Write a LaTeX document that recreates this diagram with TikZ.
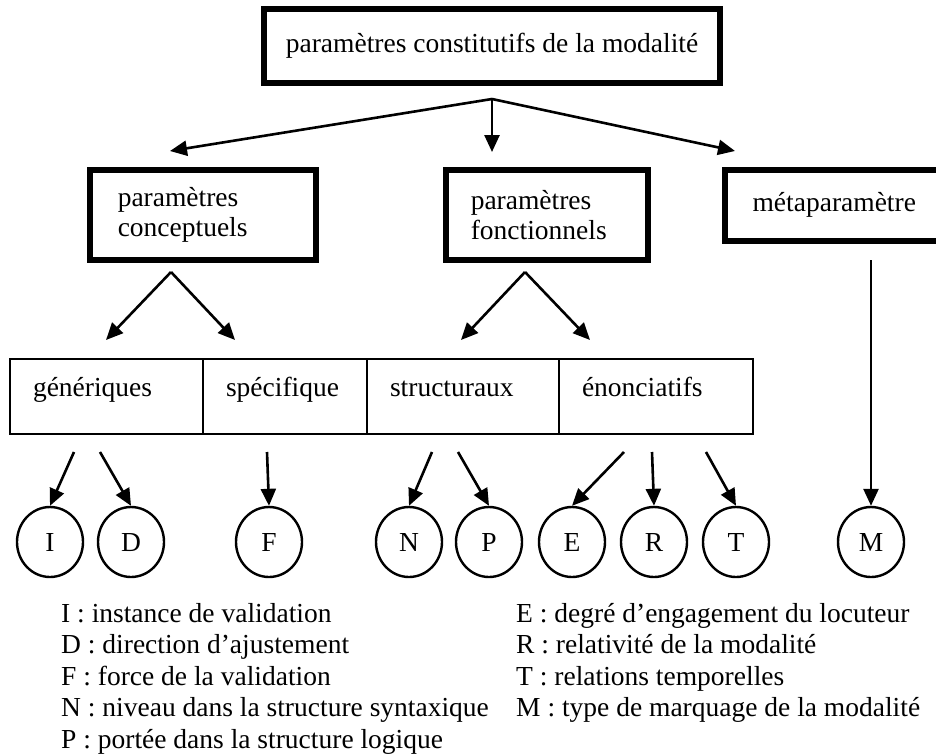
\documentclass[tikz,border=0pt]{standalone}
\usepackage{fontspec}
\setmainfont{Liberation Serif}
\usetikzlibrary{arrows.meta,shapes.geometric}

\begin{document}
\begin{tikzpicture}[x=1pt,y=-1pt,
     every node/.style={font=\fontsize{27.5}{30}\selectfont},
     thickbox/.style={draw,rectangle,line width=5.5pt,inner sep=0pt},
     cell/.style={draw,rectangle,line width=2pt,anchor=north west,minimum height=75pt,
                  inner xsep=23pt,align=left,text height=19pt,text depth=20pt},
     letter/.style={draw,ellipse,line width=2.4pt,minimum width=66pt,minimum height=70pt,
                    inner sep=0pt,text height=18pt,text depth=0pt},
     arr/.style={line width=2.6pt,-{Triangle[length=17pt,width=15pt]}},
     legend/.style={anchor=base west,inner sep=0pt}
     ]
   \fill[white] (0,0) rectangle (936,755);
   \useasboundingbox (0,0) rectangle (936,755);

   % top level
   \node[thickbox,minimum width=456pt,minimum height=74pt] (modalite) at (492,46)
      {paramètres constitutifs de la modalité};

   % second level
   \node[thickbox,anchor=north west,minimum height=90pt,text width=170pt,inner xsep=28pt,align=left]
      (conceptuels) at (87,167) {paramètres\\conceptuels};
   \node[thickbox,anchor=north west,minimum height=90pt,text width=152pt,inner xsep=25pt,align=left]
      (fonctionnels) at (443,167) {paramètres\\fonctionnels};
   \node[thickbox,anchor=north west,minimum width=219pt,minimum height=71pt]
      (meta) at (722,167) {métaparamètre};

   \coordinate (apex) at (492,99);
   \coordinate (toC) at (170,151);
   \coordinate (toF) at (492,152);
   \coordinate (toM) at (735,151);
   \draw[arr] (apex) -- (toC);
   \draw[arr] (apex) -- (toF);
   \draw[arr] (apex) -- (toM);

   % third level: one row of cells
   \foreach \name/\x/\w/\txt [evaluate=\w as \tw using (\w-46)]
      in {gen/9/193/{génériques},
          spe/202/164/{spécifique},
          str/366/192/{structuraux},
          eno/558/194/{énonciatifs}}
   {
     \node[cell,text width=\tw pt] (\name) at (\x,358) {\txt};
   }

   \coordinate (apexC) at (171,272);
   \coordinate (apexF) at (525,272);
   \coordinate (toGen) at (106,340);
   \coordinate (toSpe) at (235,340);
   \coordinate (toStr) at (461,340);
   \coordinate (toEno) at (590,340);
   \draw[arr] (apexC) -- (toGen);
   \draw[arr] (apexC) -- (toSpe);
   \draw[arr] (apexF) -- (toStr);
   \draw[arr] (apexF) -- (toEno);

   % parameters as circles, each with its arrow from the row above
   \foreach \l/\x/\s/\t
      in {I/50/74/452,
          D/131/100/452,
          F/269/267/452,
          N/409/432/452,
          P/489/458/452,
          E/572/624/452,
          R/654/652/452,
          T/736/706/452,
          M/871/871/260}
   {
     \node[letter] (\l) at (\x,542) {\l};
     \coordinate (from\l) at (\s,\t);
     \draw[arr] (from\l) -- (\l.north);
   }

   % legend
   \foreach \i/\desc
      in {0/{I : instance de validation},
          1/{D : direction d’ajustement},
          2/{F : force de la validation},
          3/{N : niveau dans la structure syntaxique},
          4/{P : portée dans la structure logique}}
   {
     \node[legend] (legL\i) at (61,{622+31.5*\i}) {\desc};
   }
   \foreach \i/\desc
      in {0/{E : degré d’engagement du locuteur},
          1/{R : relativité de la modalité},
          2/{T : relations temporelles},
          3/{M : type de marquage de la modalité}}
   {
     \node[legend] (legR\i) at (516,{622+31.5*\i}) {\desc};
   }
 \end{tikzpicture}
\end{document}
